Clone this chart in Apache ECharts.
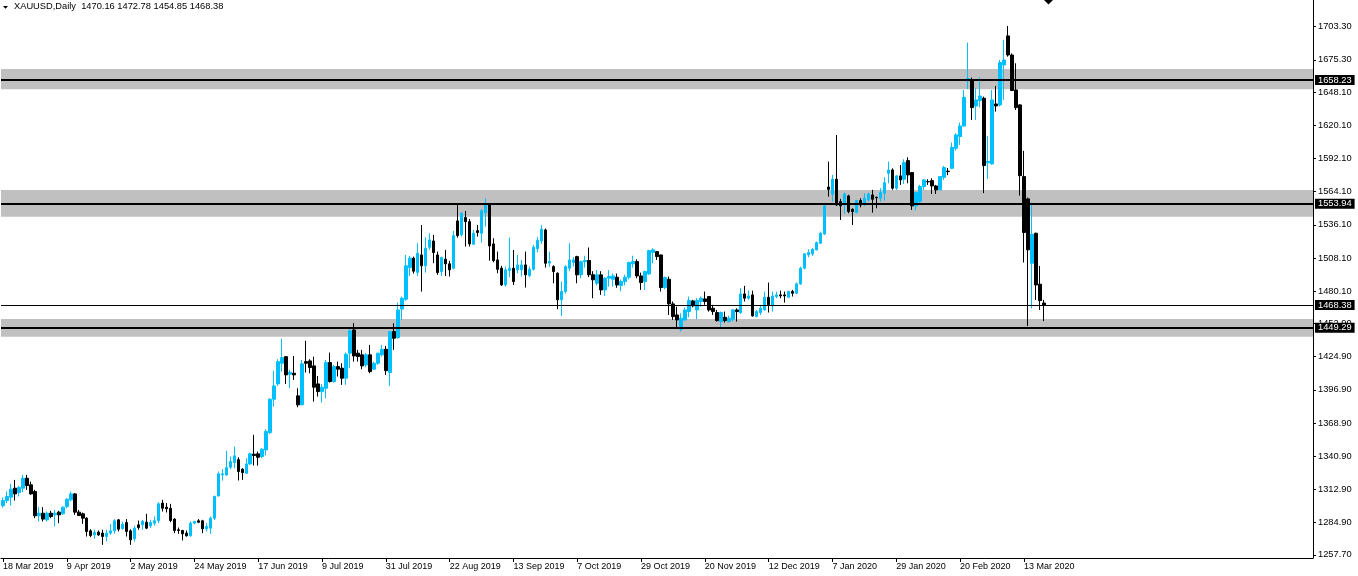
<!DOCTYPE html>
<html>
<head>
<meta charset="utf-8">
<script src="https://cdn.jsdelivr.net/npm/echarts@6/dist/echarts.min.js"></script>
<style>
html,body{margin:0;padding:0;background:#fff;}
#c{width:1358px;height:576px;}
</style>
</head>
<body>
<div id="c"></div>
<script>
const headerText = 'XAUUSD,Daily  1470.16 1472.78 1454.85 1468.38';

const opens = [
1299.0,1303.5,1306.3,1313.9,1310.2,1313.9,1322.3,1316.7,1311.1,1290.6,
1292.8,1287.2,1292.8,1291.4,1293.7,1292.3,1298.4,1304.1,1309.1,1293.7,
1292.3,1288.6,1277.9,1274.5,1276.8,1276.0,1273.1,1276.0,1277.9,1287.2,
1279.9,1285.0,1277.9,1271.2,1283.0,1283.0,1285.2,1282.1,1284.4,1286.6,
1301.3,1297.9,1297.0,1287.8,1278.8,1278.2,1276.0,1273.7,1284.4,1286.4,
1286.4,1279.6,1280.2,1288.6,1307.4,1325.1,1325.1,1331.6,1335.5,1338.0,
1329.9,1326.5,1334.4,1342.6,1342.9,1340.6,1346.2,1360.8,1389.0,1401.9,
1419.3,1424.9,1410.0,1410.9,1391.8,1384.2,1420.7,1421.3,1417.1,1401.9,
1395.4,1398.2,1419.9,1403.9,1416.5,1415.1,1406.7,1427.8,1447.4,1427.8,
1426.4,1417.9,1426.4,1414.3,1419.3,1426.4,1431.1,1411.5,1446.0,1441.0,
1465.0,1473.3,1500.0,1508.0,1496.0,1510.7,1501.5,1517.2,1522.5,1510.7,
1496.7,1507.1,1503.2,1499.5,1539.4,1527.6,1542.2,1538.8,1519.7,1531.2,
1529.0,1546.4,1552.9,1520.0,1506.5,1499.5,1485.4,1497.5,1499.5,1498.1,
1498.1,1502.3,1493.3,1498.6,1516.0,1522.5,1531.8,1503.8,1500.9,1495.3,
1472.8,1479.8,1499.5,1504.3,1509.3,1494.0,1505.0,1506.0,1494.0,1486.8,
1493.9,1481.2,1491.1,1490.2,1491.9,1484.9,1488.2,1491.9,1503.2,1505.1,
1493.0,1488.2,1494.7,1512.7,1513.5,1510.7,1483.2,1490.2,1469.4,1460.1,
1448.0,1455.9,1462.9,1471.9,1464.3,1471.4,1473.6,1475.6,1465.7,1462.1,
1454.5,1458.1,1454.5,1456.5,1464.3,1462.1,1477.8,1474.2,1477.0,1458.7,
1462.1,1464.3,1475.0,1467.7,1475.6,1477.0,1477.0,1475.0,1479.8,1478.4,
1486.3,1499.5,1510.7,1511.6,1515.0,1520.6,1528.4,1568.0,1562.0,1574.6,
1555.7,1552.9,1560.5,1549.2,1546.4,1556.6,1552.9,1557.1,1561.3,1559.4,
1558.5,1562.7,1579.6,1582.4,1567.0,1577.4,1574.6,1590.3,1580.2,1552.1,
1555.7,1568.4,1572.6,1573.4,1568.9,1565.6,1576.2,1581.4,1583.8,1600.7,
1610.6,1619.5,1657.5,1658.4,1636.4,1640.9,1642.9,1588.4,1587.5,1638.1,
1637.3,1671.0,1695.5,1679.4,1649.9,1637.3,1576.8,1558.0,1503.7,1529.0,
1486.0,1470.16
];

const highs = [
1306.0,1311.1,1317.6,1320.9,1315.9,1325.2,1325.2,1319.5,1312.5,1297.9,
1297.9,1294.2,1294.8,1295.6,1294.8,1298.4,1305.5,1311.1,1309.7,1295.6,
1293.4,1289.4,1279.3,1278.8,1278.2,1278.8,1278.8,1283.5,1287.8,1287.8,
1285.8,1287.8,1279.3,1282.1,1286.6,1287.2,1292.3,1287.2,1290.0,1302.1,
1304.1,1301.3,1300.7,1288.6,1280.7,1278.8,1278.2,1285.8,1286.4,1287.8,
1287.2,1284.4,1290.0,1307.7,1328.0,1329.9,1345.4,1340.6,1349.0,1340.0,
1330.8,1339.2,1344.0,1358.9,1344.8,1347.6,1363.6,1389.8,1412.9,1422.7,
1439.9,1425.0,1413.7,1425.5,1398.2,1422.1,1438.2,1422.7,1424.9,1408.6,
1401.9,1422.1,1428.3,1417.9,1420.7,1419.3,1428.3,1448.9,1453.1,1430.6,
1430.6,1428.0,1434.8,1420.7,1428.3,1434.8,1433.9,1446.6,1453.1,1470.5,
1475.6,1510.7,1510.0,1509.3,1520.6,1536.0,1525.6,1529.0,1527.6,1513.5,
1509.3,1515.0,1505.7,1531.0,1554.3,1546.5,1547.8,1541.0,1531.8,1536.0,
1549.3,1558.5,1554.3,1524.8,1513.5,1501.5,1500.9,1525.3,1514.9,1510.7,
1506.5,1513.5,1500.9,1519.2,1526.0,1536.0,1533.0,1513.5,1502.0,1496.0,
1488.2,1502.0,1520.6,1509.0,1510.0,1506.0,1510.0,1517.0,1497.0,1498.0,
1497.0,1492.0,1498.0,1495.0,1495.0,1490.0,1494.0,1505.0,1510.0,1507.0,
1495.8,1497.5,1515.0,1516.4,1514.0,1511.0,1492.5,1492.5,1471.4,1467.1,
1461.5,1466.3,1475.6,1472.8,1474.2,1475.6,1479.8,1476.0,1468.6,1464.3,
1462.9,1462.9,1459.3,1464.9,1465.7,1482.6,1484.6,1480.6,1480.6,1464.3,
1468.6,1479.8,1487.4,1479.8,1479.8,1480.6,1479.8,1480.6,1481.2,1487.4,
1500.9,1512.1,1515.5,1516.4,1522.0,1530.4,1552.9,1589.5,1578.2,1611.9,
1558.0,1563.3,1561.5,1550.0,1557.2,1558.5,1562.7,1563.3,1565.6,1559.8,
1567.0,1576.2,1589.5,1583.8,1578.2,1586.6,1591.4,1593.1,1580.5,1564.0,
1569.8,1574.6,1574.6,1575.4,1569.8,1577.2,1585.8,1584.0,1605.5,1613.4,
1622.3,1649.9,1689.8,1660.3,1651.3,1660.6,1644.3,1611.1,1649.9,1653.3,
1675.2,1692.1,1703.9,1680.8,1672.4,1638.0,1598.5,1559.0,1554.9,1529.5,
1501.4,1472.78
];

const lows = [
1297.5,1301.3,1299.3,1303.5,1306.9,1310.5,1312.5,1308.3,1288.6,1285.8,
1285.8,1285.8,1288.6,1281.6,1284.4,1291.4,1297.0,1302.7,1291.4,1290.6,
1283.8,1273.1,1272.6,1271.2,1273.7,1266.1,1268.9,1274.5,1275.4,1277.4,
1278.8,1273.1,1266.1,1268.9,1278.8,1278.8,1279.3,1280.2,1282.4,1284.4,
1294.2,1293.4,1285.2,1276.0,1275.4,1269.8,1273.1,1273.1,1283.5,1284.4,
1276.0,1277.4,1275.4,1287.0,1306.9,1320.3,1324.3,1329.9,1330.8,1320.4,
1320.9,1326.0,1333.6,1333.0,1333.0,1339.2,1341.5,1359.5,1382.8,1400.2,
1412.3,1401.9,1398.2,1405.3,1382.2,1384.0,1411.5,1410.9,1387.0,1391.2,
1386.2,1389.8,1403.0,1403.0,1408.1,1401.1,1401.1,1415.1,1420.7,1420.7,
1414.3,1416.0,1410.9,1413.7,1418.0,1425.0,1409.5,1400.2,1430.6,1440.0,
1456.0,1472.0,1493.0,1495.0,1493.0,1479.8,1495.8,1515.0,1503.7,1493.9,
1493.0,1493.0,1492.5,1498.6,1525.3,1526.2,1517.8,1517.8,1519.2,1526.2,
1521.1,1534.6,1505.9,1504.5,1495.3,1484.6,1484.0,1491.9,1485.4,1495.3,
1492.5,1483.2,1491.9,1497.5,1513.0,1520.0,1500.0,1500.9,1486.8,1464.9,
1459.3,1478.0,1497.0,1501.0,1486.8,1491.0,1500.0,1492.0,1474.2,1485.0,
1477.0,1476.0,1484.0,1484.0,1483.0,1480.0,1485.0,1490.0,1500.0,1491.0,
1481.2,1481.2,1493.9,1503.7,1506.5,1479.8,1481.8,1460.1,1455.9,1448.3,
1446.0,1455.3,1458.1,1466.5,1456.5,1467.1,1468.6,1462.9,1460.1,1454.5,
1449.7,1453.7,1453.7,1454.5,1454.5,1460.9,1471.4,1472.8,1458.7,1458.1,
1460.1,1463.8,1462.1,1462.9,1474.2,1474.2,1470.5,1474.2,1475.6,1477.8,
1485.4,1498.6,1508.8,1509.9,1514.4,1520.0,1527.6,1559.9,1555.7,1552.1,
1540.2,1545.3,1545.9,1536.0,1545.9,1550.9,1552.1,1555.7,1546.4,1550.1,
1555.7,1556.6,1571.2,1565.6,1565.6,1569.8,1570.6,1571.2,1548.7,1548.2,
1553.7,1565.6,1569.8,1562.2,1562.2,1565.4,1574.0,1578.0,1583.0,1598.7,
1603.5,1619.0,1650.7,1624.6,1624.6,1635.3,1562.8,1574.8,1587.0,1631.6,
1636.0,1641.5,1678.0,1649.0,1633.0,1560.8,1504.3,1450.8,1465.7,1472.8,
1464.3,1454.85
];

const closes = [
1303.5,1306.9,1313.1,1309.1,1314.5,1322.3,1316.1,1309.1,1290.6,1292.8,
1287.8,1292.8,1290.0,1292.8,1291.4,1297.9,1304.6,1309.1,1293.7,1290.8,
1288.6,1277.4,1274.0,1276.5,1274.5,1273.1,1276.0,1277.9,1286.4,1279.3,
1283.5,1277.4,1270.3,1280.2,1280.7,1285.8,1280.2,1285.0,1286.4,1300.7,
1297.0,1296.5,1286.6,1278.2,1278.2,1275.4,1273.7,1284.4,1285.8,1285.2,
1279.6,1281.6,1288.6,1306.9,1326.0,1326.0,1331.3,1336.4,1341.2,1328.0,
1327.1,1334.4,1342.9,1341.5,1340.0,1346.8,1361.7,1389.0,1400.2,1420.7,
1424.1,1409.5,1411.7,1409.5,1384.2,1418.8,1419.3,1415.7,1399.1,1395.4,
1399.1,1419.9,1403.9,1416.5,1414.3,1406.7,1426.9,1446.6,1425.5,1425.0,
1417.1,1426.4,1412.3,1419.3,1427.8,1431.1,1413.1,1446.0,1440.4,1464.3,
1474.2,1501.5,1508.0,1497.0,1512.1,1501.5,1516.4,1523.4,1512.7,1495.8,
1508.5,1503.2,1498.1,1527.0,1527.0,1545.9,1538.8,1520.0,1529.0,1529.6,
1548.1,1554.3,1518.3,1505.9,1498.6,1485.4,1498.1,1499.5,1488.2,1502.3,
1502.3,1493.9,1498.6,1517.2,1523.0,1532.4,1503.7,1505.1,1496.7,1472.8,
1479.8,1500.9,1506.5,1506.5,1493.9,1505.0,1506.0,1494.0,1489.7,1493.9,
1481.2,1491.1,1492.5,1493.0,1485.4,1488.2,1491.9,1504.3,1505.1,1493.0,
1487.4,1496.7,1514.4,1515.0,1509.3,1483.2,1491.6,1469.4,1458.7,1455.9,
1457.3,1464.3,1472.2,1467.7,1472.2,1474.2,1471.4,1464.3,1462.9,1455.3,
1462.1,1455.3,1457.3,1464.3,1462.9,1477.8,1474.2,1476.1,1459.3,1462.9,
1465.7,1475.0,1468.6,1476.1,1477.0,1476.1,1476.1,1479.8,1478.4,1486.3,
1499.5,1511.6,1512.7,1515.5,1521.1,1529.0,1552.1,1566.0,1574.6,1552.9,
1552.1,1562.2,1547.3,1547.3,1556.6,1552.9,1558.5,1562.2,1557.7,1559.0,
1563.3,1571.7,1582.4,1567.0,1577.4,1574.0,1588.6,1578.2,1552.1,1563.3,
1568.4,1574.0,1572.4,1568.9,1565.6,1576.8,1584.4,1581.0,1601.5,1612.0,
1619.5,1643.7,1659.5,1635.0,1641.5,1644.8,1586.1,1589.7,1641.5,1636.4,
1673.0,1675.2,1679.4,1649.4,1635.0,1577.6,1529.6,1515.0,1528.2,1485.4,
1472.2,1468.38
];

const xTickLabels = ['18 Mar 2019','9 Apr 2019','2 May 2019','24 May 2019','17 Jun 2019','9 Jul 2019',
  '31 Jul 2019','22 Aug 2019','13 Sep 2019','7 Oct 2019','29 Oct 2019','20 Nov 2019','12 Dec 2019',
  '7 Jan 2020','29 Jan 2020','20 Feb 2020','13 Mar 2020'];
const xTickEvery = 16;

const yTickValues = [1703.30,1675.30,1648.10,1620.10,1592.10,1564.10,1536.10,1508.10,1480.10,
  1452.90,1424.90,1396.90,1368.90,1340.90,1312.90,1284.90,1257.70];

const levelLines = [1658.23, 1553.94, 1449.29];
const zoneLows  = [1650.5, 1543.0, 1441.7];
const zoneHighs = [1667.6, 1565.5, 1456.7];
const bidPrice = 1468.38;

const startDate = '2019-03-18';
const holidays = ['2019-04-19','2019-12-25','2020-01-01'];
const slotCount = 329;

// trading-day categories (weekdays minus holidays)
const categories = [];
{
  const d = new Date(startDate + 'T00:00:00Z');
  while (categories.length < slotCount) {
    const wd = d.getUTCDay();
    const s = d.toISOString().slice(0, 10);
    if (wd !== 0 && wd !== 6 && holidays.indexOf(s) < 0) categories.push(s);
    d.setUTCDate(d.getUTCDate() + 1);
  }
}

const candleData = opens.map((o, i) => [o, closes[i], lows[i], highs[i]]);

const FONT = '"Liberation Sans", Arial, sans-serif';
const lastTickIdx = (xTickLabels.length - 1) * xTickEvery;
const showTick = (i) => i % xTickEvery === 0 && i <= lastTickIdx;

const labelBox = {
  show: true, position: 'end', distance: 2,
  formatter: (p) => Number(p.value).toFixed(2),
  color: '#fff', backgroundColor: '#000',
  padding: [1, 3, 0, 3], fontSize: 9.3, lineHeight: 9, fontFamily: FONT
};

const chart = echarts.init(document.getElementById('c'), null, { renderer: 'canvas' });
chart.setOption({
  animation: false,
  backgroundColor: '#ffffff',
  title: {
    text: headerText, left: 14, top: 2, padding: 0,
    textStyle: { fontSize: 9.3, fontWeight: 'normal', color: '#000', fontFamily: FONT }
  },
  grid: { left: -2, right: 45, top: 0, bottom: 18, containLabel: false },
  xAxis: {
    type: 'category', data: categories, boundaryGap: true,
    axisLine: { show: true, lineStyle: { color: '#000', width: 1 } },
    axisTick: { show: true, alignWithLabel: true, interval: (i) => showTick(i), length: 4,
      lineStyle: { color: '#000' } },
    axisLabel: { show: true, interval: (i) => showTick(i), align: 'left', margin: 4,
      fontSize: 9, color: '#000', fontFamily: FONT,
      formatter: (v, i) => xTickLabels[Math.round(i / xTickEvery)] || '' },
    splitLine: { show: false }
  },
  yAxis: {
    type: 'value', position: 'right', min: 1255.0, max: 1725.8,
    axisLine: { show: true, onZero: false, lineStyle: { color: '#000', width: 1 } },
    axisTick: { show: true, customValues: yTickValues, length: 3, lineStyle: { color: '#000' } },
    axisLabel: { show: true, customValues: yTickValues, margin: 5, fontSize: 9.3, color: '#000',
      fontFamily: FONT, formatter: (v) => Number(v).toFixed(2) },
    splitLine: { show: false }
  },
  series: [{
    type: 'candlestick',
    data: candleData,
    barWidth: 3,
    clip: true,
    itemStyle: {
      color: '#00BFFF', color0: '#000000',
      borderColor: '#00BFFF', borderColor0: '#000000', borderWidth: 1
    },
    markArea: {
      silent: true,
      itemStyle: { color: '#c0c0c0', opacity: 1 },
      label: { show: false },
      data: zoneLows.map((lo, i) => [{ yAxis: zoneHighs[i] }, { yAxis: lo }])
    },
    markLine: {
      silent: true, symbol: ['none', 'none'], animation: false,
      label: labelBox,
      data: levelLines.map(v => ({ yAxis: v, lineStyle: { color: '#000', width: 2, type: 'solid' } }))
        .concat([{ yAxis: bidPrice, lineStyle: { color: '#000', width: 1, type: 'solid' } }])
    }
  }],
  graphic: [
    { type: 'polygon', silent: true, shape: { points: [[3, 6], [8, 6], [5.5, 8.7]] }, style: { fill: '#000' } },
    { type: 'polygon', silent: true, shape: { points: [[1044, 0], [1053, 0], [1048.5, 4.5]] }, style: { fill: '#000' } }
  ]
});
</script>
</body>
</html>
